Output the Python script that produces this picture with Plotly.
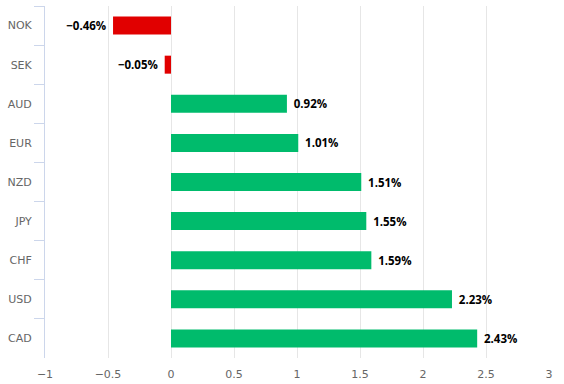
import plotly.graph_objects as go

currencies = ["NOK", "SEK", "AUD", "EUR", "NZD", "JPY", "CHF", "USD", "CAD"]
values = [-0.46, -0.05, 0.92, 1.01, 1.51, 1.55, 1.59, 2.23, 2.43]
x_ticks = [-1, -0.5, 0, 0.5, 1, 1.5, 2, 2.5, 3]
x_tick_text = ["\u22121", "\u22120.5", "0", "0.5", "1", "1.5", "2", "2.5", "3"]

colors = ["#e10000" if v < 0 else "#00bb6c" for v in values]
labels = [("\u2212" + f"{abs(v):.2f}%" + "\u2004") if v < 0 else ("\u2004" + f"{v:.2f}%") for v in values]

fig = go.Figure(go.Bar(
    x=values, y=currencies, orientation="h",
    marker=dict(color=colors, line=dict(width=0)),
    text=labels, textposition="outside", cliponaxis=False,
    textfont=dict(family="Open Sans, sans-serif", size=11.5, color="#000000", weight="bold"),
))

fig.update_layout(
    width=564, height=384,
    margin=dict(l=45, r=15, t=6, b=26),
    paper_bgcolor="white", plot_bgcolor="white",
    bargap=0.54, showlegend=False,
    font=dict(family="DejaVu Sans, sans-serif", size=11, color="#666666"),
)
fig.update_xaxes(
    range=[-1, 3], tickvals=x_ticks, ticktext=x_tick_text, automargin=False,
    showgrid=True, gridcolor="#e6e6e6", gridwidth=1, zeroline=False,
    showline=False, ticks="outside", ticklen=6, tickcolor="rgba(0,0,0,0)",
    tickfont=dict(size=11, color="#666666"),
)
fig.update_yaxes(
    autorange="reversed", showgrid=False, zeroline=False, automargin=False,
    showline=True, linecolor="#ccd6eb", linewidth=1,
    ticks="outside", tickson="boundaries", ticklen=10, tickcolor="#ccd6eb",
    ticklabelstandoff=10,
    tickfont=dict(size=11, color="#666666"),
)

fig.write_html(
    "out.html",
    config={"displayModeBar": False},
    post_script="document.body.style.margin='0';document.body.style.overflow='hidden';",
)
